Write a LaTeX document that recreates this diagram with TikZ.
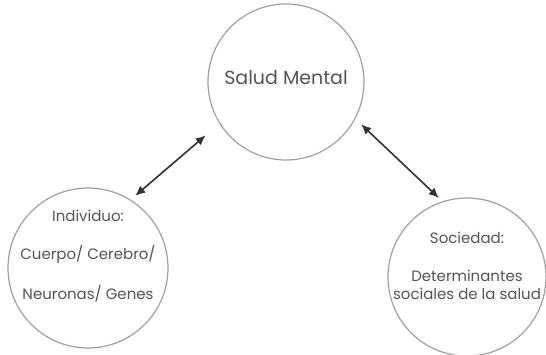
\documentclass[tikz,border=0pt]{standalone}
\usepackage{fontspec}
\setmainfont{Poppins}
\usetikzlibrary{arrows.meta}
\definecolor{inkgray}{HTML}{555555}
\definecolor{ringgray}{HTML}{A0A0A0}

\begin{document}
\begin{tikzpicture}[
    x=0.5pt, y=0.5pt,
    bubble/.style={circle, draw=ringgray, line width=0.6pt, inner sep=0pt},
    inside/.style={text=inkgray, align=center, font=\fontsize{7.5}{9}\selectfont},
    link/.style={{Latex[length=5pt,width=4.5pt]}-{Latex[length=5pt,width=4.5pt]}, line width=0.8pt, draw=black!80}
]
    \useasboundingbox (0,0) rectangle (546,354);
    \node [bubble, minimum size=78pt,
        label={[inside, yshift=2pt, font=\fontsize{9.5}{11}\selectfont]center:Salud Mental}] (salud) at (286,272) {};
    \node [bubble, minimum size=80pt,
        label={[inside, yshift=6pt]center:Individuo:\\[10pt]Cuerpo/ Cerebro/\\[10pt]Neuronas/ Genes}] (indiv) at (88,86) {};
    \node [bubble, minimum size=79pt,
        label={[inside, yshift=5.5pt]center:Sociedad:\\[10pt]Determinantes\\sociales de la salud}] (socie) at (467,77) {};
    % flechas dobles
    \draw [link, shorten <=3pt, shorten >=9pt] (indiv.58) -- (salud.212);
    \draw [link, shorten <=4pt, shorten >=2.5pt] (salud.332) -- (socie.108);
\end{tikzpicture}
\end{document}
